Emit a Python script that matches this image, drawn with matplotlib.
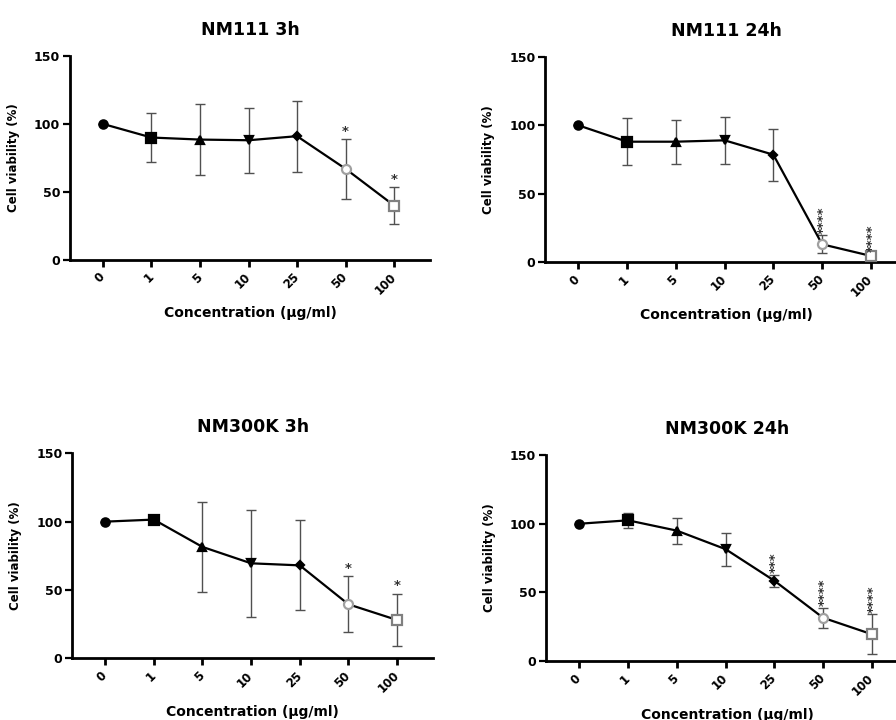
import matplotlib
matplotlib.use("Agg")
import matplotlib.pyplot as plt

plt.rcParams['font.family'] = ['DejaVu Sans']
plt.rcParams['font.weight'] = 'bold'

conc_labels = ["0", "1", "5", "10", "25", "50", "100"]

titles = ["NM111 3h", "NM111 24h", "NM300K 3h", "NM300K 24h"]

nm111_3h = [100, 90, 88.5, 88, 91, 67, 40]
nm111_3h_err = [0, 18, 26, 24, 26, 22, 13.5]
nm111_3h_sig = ["", "", "", "", "", "*", "*"]

nm111_24h = [100, 88, 88, 89, 78.5, 13, 4.5]
nm111_24h_err = [0, 17, 16, 17, 19, 6.7, 2]
nm111_24h_sig = ["", "", "", "", "", "****", "****"]

nm300k_3h = [100, 101.5, 81.5, 69.5, 68, 39.5, 28]
nm300k_3h_err = [0, 1, 33, 39, 33, 20.5, 19.3]
nm300k_3h_sig = ["", "", "", "", "", "*", "*"]

nm300k_24h = [100, 102.5, 95, 81.5, 58.5, 31.5, 19.5]
nm300k_24h_err = [0, 5.5, 9.5, 12, 4.4, 7.4, 14.6]
nm300k_24h_sig = ["", "", "", "", "***", "****", "****"]

series = [(nm111_3h, nm111_3h_err, nm111_3h_sig),
          (nm111_24h, nm111_24h_err, nm111_24h_sig),
          (nm300k_3h, nm300k_3h_err, nm300k_3h_sig),
          (nm300k_24h, nm300k_24h_err, nm300k_24h_sig)]

# marker style per concentration (Prism defaults)
markers = ["o", "s", "^", "v", "D", "o", "s"]
msizes = [6, 6.5, 6, 6, 4.5, 6.5, 6.5]
faces = ["black"] * 5 + ["white", "white"]
edges = ["black"] * 5 + ["#a0a0a0", "#808080"]

# axes rectangles in figure fraction
rects = [[0.0781, 0.639, 0.4018, 0.2833],
         [0.6083, 0.636, 0.4040, 0.2850],
         [0.0804, 0.0857, 0.4030, 0.2847],
         [0.6094, 0.0819, 0.4040, 0.2860]]

fig = plt.figure(figsize=(8.96, 7.2), dpi=100)

for rect, title, (vals, errs, sig) in zip(rects, titles, series):
    ax = fig.add_axes(rect)
    x = list(range(len(conc_labels)))
    ax.plot(x, vals, color="black", lw=1.6, zorder=2)
    ax.errorbar(x, vals, yerr=errs, fmt="none", ecolor="#505050",
                elinewidth=1.0, capsize=3.6, capthick=1.0, zorder=1)
    for i in x:
        ax.plot(i, vals[i], marker=markers[i], ms=msizes[i],
                mfc=faces[i], mec=edges[i], mew=1.6, zorder=3, ls="none")
        if sig[i]:
            top = vals[i] + errs[i]
            if len(sig[i]) == 1:
                ax.annotate(sig[i], (i, top), xytext=(0, 1), textcoords="offset points",
                            ha="center", va="bottom", fontsize=9.5, color="#333333")
            else:
                ax.annotate(sig[i], (i, top), xytext=(1, 1), textcoords="offset points",
                            ha="center", va="bottom", fontsize=9.5, rotation=90,
                            color="#333333")

    ax.set_xlim(-0.68, 6.74)
    ax.set_ylim(0, 150)
    ax.set_yticks([0, 50, 100, 150])
    ax.set_xticks(x)
    ax.set_xticklabels(conc_labels, rotation=45, ha="right", va="center",
                       rotation_mode="anchor", fontsize=8.5, fontweight="bold")
    for lab in ax.get_yticklabels():
        lab.set_fontsize(9)
        lab.set_fontweight("bold")
    ax.spines["top"].set_visible(False)
    ax.spines["right"].set_visible(False)
    ax.spines["left"].set_linewidth(2.0)
    ax.spines["bottom"].set_linewidth(2.0)
    ax.tick_params(axis="x", length=5, width=2.0, pad=6)
    ax.tick_params(axis="y", length=5, width=1.6, pad=2)
    ax.set_title(title, fontsize=12.5, fontweight="bold", pad=15)
    ax.set_ylabel("Cell viability (%)", fontsize=8.5, fontweight="bold")
    ax.yaxis.set_label_coords(-0.139, 0.5)
    ax.set_xlabel("Concentration (\u03bcg/ml)", fontsize=10, fontweight="bold")
    ax.xaxis.set_label_coords(0.5, -0.26)
    ax.xaxis.label.set_va("center")
    ax.patch.set_alpha(0)

fig.savefig("out.png", dpi=100, facecolor="white")
